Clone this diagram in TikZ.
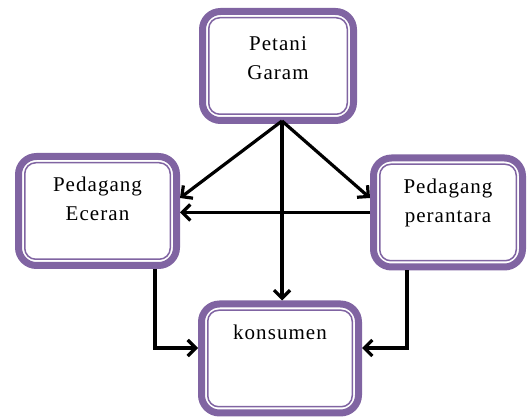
\documentclass[tikz,border=0pt]{standalone}
\usepackage{fontspec}
\setmainfont[LetterSpace=5]{Liberation Serif}
\usetikzlibrary{arrows.meta,positioning}
\definecolor{framepurple}{HTML}{8064A2}
\tikzset{
    %Define standard arrow tip
    >={Straight Barb[length=8pt,width=16pt]},
    %Define style for boxes
    actor/.style={
           rectangle,
           rounded corners=18pt,
           draw=framepurple, line width=7pt,
           minimum width=154pt,
           minimum height=109pt,
           text width=140pt,
           align=center,
           inner ysep=20pt,
           text height=15pt,
           text depth=53pt,
           font=\fontsize{21}{29}\selectfont,
           },
    % Define inner frame style
    inframe/.style={
           draw=framepurple, line width=1.5pt,
           rounded corners=11pt,},
    % Define arrow style
    pil/.style={
           ->,
           line width=3.2pt,},
}
\begin{document}
\begin{tikzpicture}[x=1pt,y=1pt]
\useasboundingbox (0,0) rectangle (528,418);
\node[actor, minimum width=151pt, inner ysep=24pt, text depth=46pt] (petani) at (278,352) {Petani\\Garam};
\node[actor, minimum width=158pt] (eceran) at (97.5,207) {Pedagang\\Eceran};
\node[actor, minimum width=149pt] (perantara) at (448,205.5) {Pedagang\\perantara};
\node[actor, minimum width=157pt] (konsumen) at (280,59.5) {konsumen};
% inner thin frames
\foreach \n in {petani,eceran,perantara,konsumen}
    \draw[inframe] ([shift={(9.75pt,9.75pt)}]\n.south west) rectangle ([shift={(-9.75pt,-9.75pt)}]\n.north east);
\coordinate (split) at ([xshift=4pt,yshift=3pt]petani.south);
\draw[pil] (split) -- ([yshift=13pt]eceran.east);
\draw[pil] (split) -- ([yshift=14.5pt]perantara.west);
\draw[pil] (split) -- (split |- konsumen.north);
\draw[pil] (perantara.west) -- (perantara.west -| eceran.east);
\draw[pil] ([xshift=57.5pt]eceran.south) |- ([yshift=10.5pt]konsumen.west);
\draw[pil] ([xshift=-41pt]perantara.south) |- ([yshift=10.5pt]konsumen.east);
\end{tikzpicture}
\end{document}
